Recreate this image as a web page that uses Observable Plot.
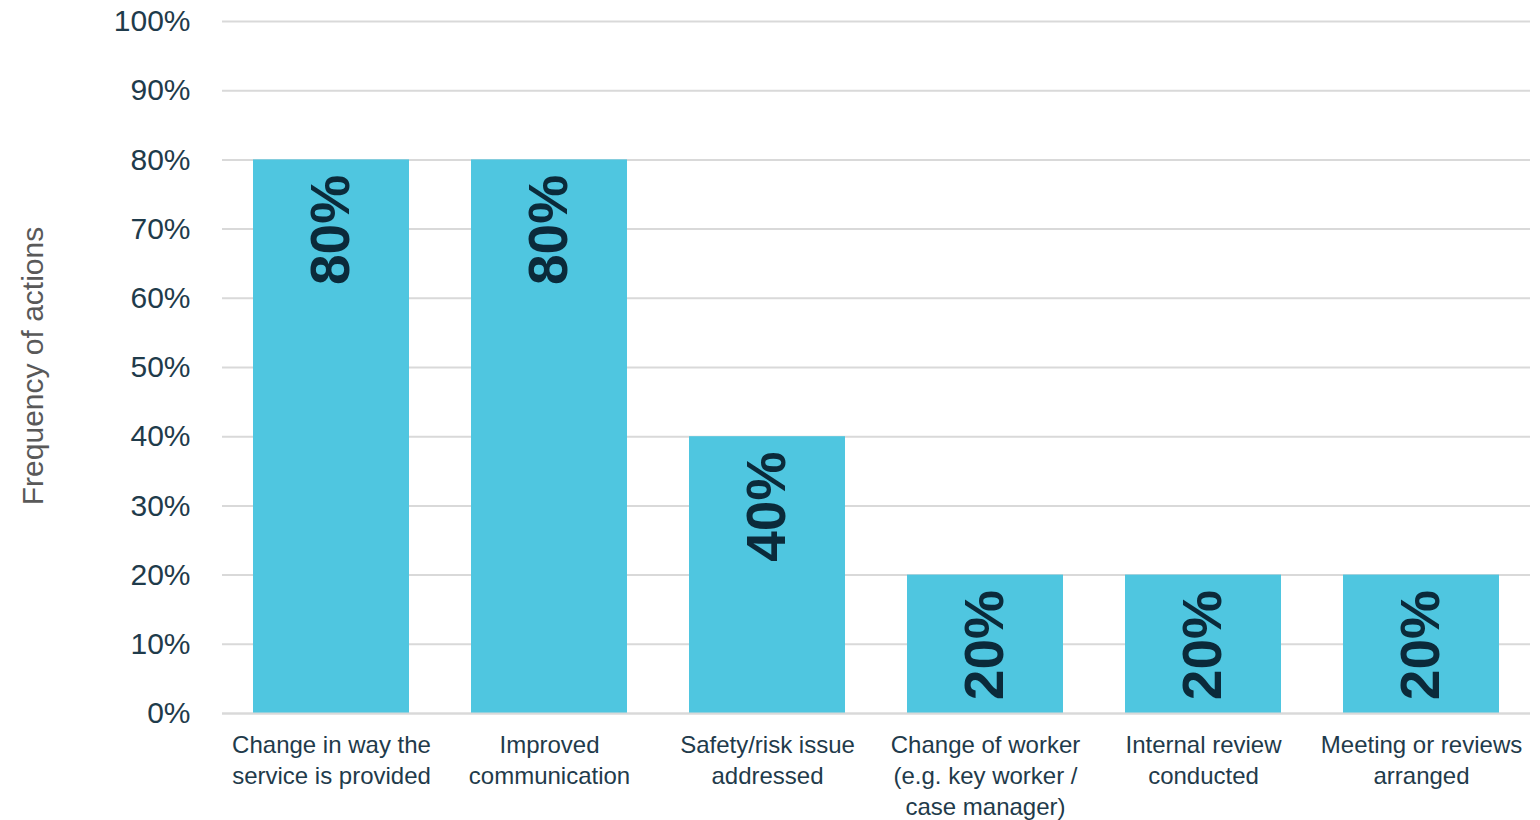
<!DOCTYPE html>
<html><head><meta charset="utf-8">
<script src="https://cdn.jsdelivr.net/npm/d3@7"></script>
<script src="https://cdn.jsdelivr.net/npm/@observablehq/plot@0.6"></script>
<style>
body{margin:0;background:#fff;}
#chart{position:absolute;left:0;top:0;}
</style>
</head><body><div id="chart"></div>
<script>
const categories = [
  "Change in way the\nservice is provided",
  "Improved\ncommunication",
  "Safety/risk issue\naddressed",
  "Change of worker\n(e.g. key worker /\ncase manager)",
  "Internal review\nconducted",
  "Meeting or reviews\narranged"
];
const values = [0.8, 0.8, 0.4, 0.2, 0.2, 0.2];
const yTicks = [0,0.1,0.2,0.3,0.4,0.5,0.6,0.7,0.8,0.9,1.0];
const data = categories.map((c,i)=>({category:c, value:values[i]}));

const plot = Plot.plot({
  width:1540, height:820,
  marginLeft:222, marginRight:10, marginTop:21, marginBottom:107,
  style:{fontFamily:"'Liberation Sans', Arial, sans-serif", background:"#fff"},
  x:{domain:categories, paddingInner:0.285, paddingOuter:0.1425, label:null},
  y:{domain:[0,1], label:null},
  marks:[
    Plot.gridY(yTicks,{stroke:"#d9d9d9", strokeOpacity:1, strokeWidth:2}),
    Plot.barY(data,{x:"category", y:"value", fill:"#4FC6E0"}),
    Plot.ruleY([0],{stroke:"#d9d9d9", strokeWidth:2}),
    Plot.axisY(yTicks,{tickFormat:d=>Math.round(d*100)+"%", tickSize:0, tickPadding:32, fontSize:30, fill:"#1f3b4b", label:null}),
    Plot.axisX({tickSize:0, tickPadding:18, fontSize:24, fill:"#1f3b4b", lineHeight:1.28, label:null, textAnchor:"middle"}),
    Plot.text(data,{x:"category", y:"value", text:d=>Math.round(d.value*100)+"%", rotate:-90, textAnchor:"end", dy:15, fontSize:55, fontWeight:"bold", fill:"#0b2a3a"})
  ]
});
document.getElementById("chart").appendChild(plot);
</script>
<div style="position:absolute;left:33px;top:366px;transform:translate(-50%,-50%) rotate(-90deg);font-family:'Liberation Sans',Arial,sans-serif;font-size:30px;color:#595959;white-space:nowrap;">Frequency of actions</div>
</body></html>
